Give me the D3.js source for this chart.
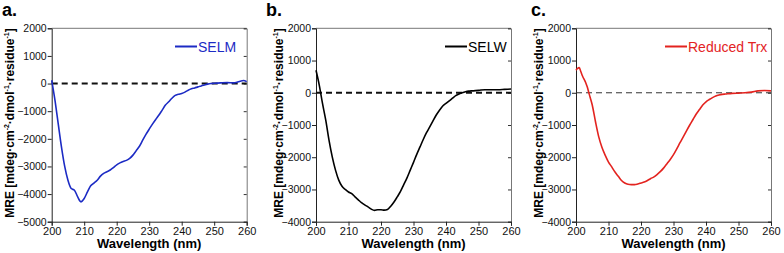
<!DOCTYPE html>
<html>
<head>
<meta charset="utf-8">
<script src="https://cdn.jsdelivr.net/npm/d3@7"></script>
<style>
  body { margin: 0; background: #fff; }
  svg { display: block; font-family: "Liberation Sans", Arial, Helvetica, sans-serif; }
</style>
</head>
<body>
<div id="chart"></div>
<script>
// wavelength ticks shared by all panels
let xTicks = [200, 210, 220, 230, 240, 250, 260];

// panel a: SELM
let selmNm  = [200,201,202,203,204,205,206,207,208,209,210,211,212,213,214,215,216,217,218,219,220,221,222,223,224,225,226,227,228,229,230,231,232,233,234,235,236,237,238,239,240,241,242,243,244,245,246,247,248,249,250,252,254,256,257,258,259,260];
let selmMre = [120,-600,-1450,-2290,-3000,-3500,-3800,-3860,-4100,-4280,-4160,-3920,-3700,-3600,-3500,-3350,-3250,-3190,-3130,-3040,-2940,-2870,-2820,-2780,-2710,-2590,-2430,-2270,-2050,-1840,-1650,-1470,-1300,-1140,-960,-780,-660,-530,-430,-390,-360,-310,-240,-190,-160,-120,-85,-50,-20,0,10,25,35,25,50,85,110,70];
let yTicksA = [2000, 1000, 0, -1000, -2000, -3000, -4000, -5000];

// panel b: SELW
let selwNm  = [200,201,202,203,204,205,206,207,208,209,210,211,212,213,214,215,216,217,218,219,220,221,222,223,224,225,226,227,228,229,230,231,232,233,234,235,236,237,238,239,240,241,242,243,244,245,246,247,248,250,252,254,256,258,260];
let selwMre = [700,240,-330,-850,-1470,-1990,-2400,-2710,-2900,-3000,-3080,-3130,-3230,-3320,-3410,-3480,-3540,-3610,-3650,-3630,-3630,-3640,-3620,-3520,-3390,-3230,-3060,-2850,-2640,-2400,-2160,-1910,-1680,-1450,-1240,-1060,-870,-690,-540,-410,-330,-250,-170,-90,-40,0,30,50,60,75,95,95,95,105,115];
let yTicksB = [2000, 1000, 0, -1000, -2000, -3000, -4000];

// panel c: reduced Trx
let trxNm  = [200,200.5,201,201.5,202,203,203.5,204,205,206,207,208,209,210,211,212,213,214,215,216,217,218,219,220,221,222,223,224,225,226,227,228,229,230,231,232,233,234,235,236,237,238,239,240,241,242,243,244,245,246,248,250,252,254,256,258,260];
let trxMre = [700,760,780,650,520,310,170,-20,-380,-900,-1370,-1700,-1940,-2150,-2300,-2460,-2590,-2720,-2800,-2840,-2850,-2850,-2830,-2800,-2770,-2720,-2660,-2610,-2530,-2440,-2330,-2200,-2070,-1920,-1740,-1550,-1370,-1180,-1000,-830,-660,-520,-380,-280,-210,-150,-100,-70,-50,-40,-20,-10,0,20,60,70,60];
let yTicksC = [2000, 1000, 0, -1000, -2000, -3000, -4000];

let width = 784, height = 253;
let plotTop = 28.3, plotBottom = 221.7;

let svg = d3.select("#chart").append("svg")
    .attr("width", width)
    .attr("height", height);

let panels = [
    {letter:"a.", letterX:2, left:51.7, right:246.7, nm:selmNm, mre:selmMre, ticks:yTicksA, color:"#1c2bc4",
     label:"SELM", legX:175, titleX:14, zero:{w:2, dash:"6,4", color:"#111"}},
    {letter:"b.", letterX:266, left:316, right:511, nm:selwNm, mre:selwMre, ticks:yTicksB, color:"#000",
     label:"SELW", legX:445, titleX:282.5, zero:{w:2, dash:"6,4", color:"#111"}},
    {letter:"c.", letterX:531, left:576, right:771, nm:trxNm, mre:trxMre, ticks:yTicksC, color:"#e3231f",
     label:"Reduced Trx", legX:665, titleX:542.5, zero:{w:1, dash:"6,4", color:"#333"}}
];

panels.forEach(drawPanel);

function drawPanel(p){
    let g = svg.append("g");

    let x = d3.scaleLinear().domain([200, 260]).range([p.left, p.right]);
    let y = d3.scaleLinear().domain([p.ticks[p.ticks.length-1], p.ticks[0]]).range([plotBottom, plotTop]);

    // frame: top and right in grey, right with inner ticks
    g.append("line")
        .attr("x1", p.left).attr("x2", p.right)
        .attr("y1", plotTop).attr("y2", plotTop)
        .attr("stroke", "#777").attr("stroke-width", 1);

    g.append("g")
        .attr("transform", `translate(${p.right},0)`)
        .call(d3.axisRight(y).tickValues(p.ticks).tickSize(-3).tickFormat(""))
        .call(a => a.select(".domain").attr("stroke", "#777"))
        .call(a => a.selectAll(".tick line").attr("stroke", "#333"));

    // left axis
    g.append("g")
        .attr("transform", `translate(${p.left},0)`)
        .call(d3.axisLeft(y).tickValues(p.ticks).tickSize(4).tickPadding(1).tickFormat(d3.format("d")))
        .call(a => a.selectAll("text").attr("font-size", 10.5).attr("fill", "#111")
            .attr("font-family", "'Liberation Sans', Arial, sans-serif"))
        .call(a => a.selectAll("line,path").attr("stroke", "#222"));

    // bottom axis
    g.append("g")
        .attr("transform", `translate(0,${plotBottom})`)
        .call(d3.axisBottom(x).tickValues(xTicks).tickSize(4).tickPadding(2).tickFormat(d3.format("d")))
        .call(a => a.selectAll("text").attr("font-size", 11).attr("fill", "#111")
            .attr("font-family", "'Liberation Sans', Arial, sans-serif"))
        .call(a => a.selectAll("line,path").attr("stroke", "#222"));

    // zero line
    g.append("line")
        .attr("x1", p.left).attr("x2", p.right)
        .attr("y1", y(0)).attr("y2", y(0))
        .attr("stroke", p.zero.color)
        .attr("stroke-width", p.zero.w)
        .attr("stroke-dasharray", p.zero.dash);

    // the spectrum
    let line = d3.line()
        .x((d, i) => x(p.nm[i]))
        .y(d => y(d))
        .curve(d3.curveMonotoneX);

    g.append("path")
        .datum(p.mre)
        .attr("fill", "none")
        .attr("stroke", p.color)
        .attr("stroke-width", 1.6)
        .attr("d", line);

    // legend
    g.append("line")
        .attr("x1", p.legX).attr("x2", p.legX + 22)
        .attr("y1", 46.5).attr("y2", 46.5)
        .attr("stroke", p.color).attr("stroke-width", 2);
    g.append("text")
        .attr("x", p.legX + 23).attr("y", 51.5)
        .attr("font-size", 14)
        .attr("fill", p.color)
        .text(p.label);

    // panel letter
    g.append("text")
        .attr("x", p.letterX).attr("y", 16)
        .attr("font-size", 18).attr("font-weight", "bold")
        .text(p.letter);

    // x title
    g.append("text")
        .attr("x", (p.left + p.right) / 2).attr("y", 248)
        .attr("text-anchor", "middle")
        .attr("font-size", 13).attr("font-weight", "bold")
        .text("Wavelength (nm)");

    // y title with superscripts
    let yt = g.append("text")
        .attr("transform", `translate(${p.titleX},${(plotTop + plotBottom) / 2 - 2}) rotate(-90)`)
        .attr("text-anchor", "middle")
        .attr("font-size", 12).attr("font-weight", "bold");
    yt.append("tspan").text("MRE [mdeg·cm");
    yt.append("tspan").attr("dy", -5).attr("font-size", 7).text("-2");
    yt.append("tspan").attr("dy", 5).text("·dmol");
    yt.append("tspan").attr("dy", -5).attr("font-size", 7).text("-1");
    yt.append("tspan").attr("dy", 5).text("·residue");
    yt.append("tspan").attr("dy", -5).attr("font-size", 7).text("-1");
    yt.append("tspan").attr("dy", 5).text("]");
}
</script>
</body>
</html>
